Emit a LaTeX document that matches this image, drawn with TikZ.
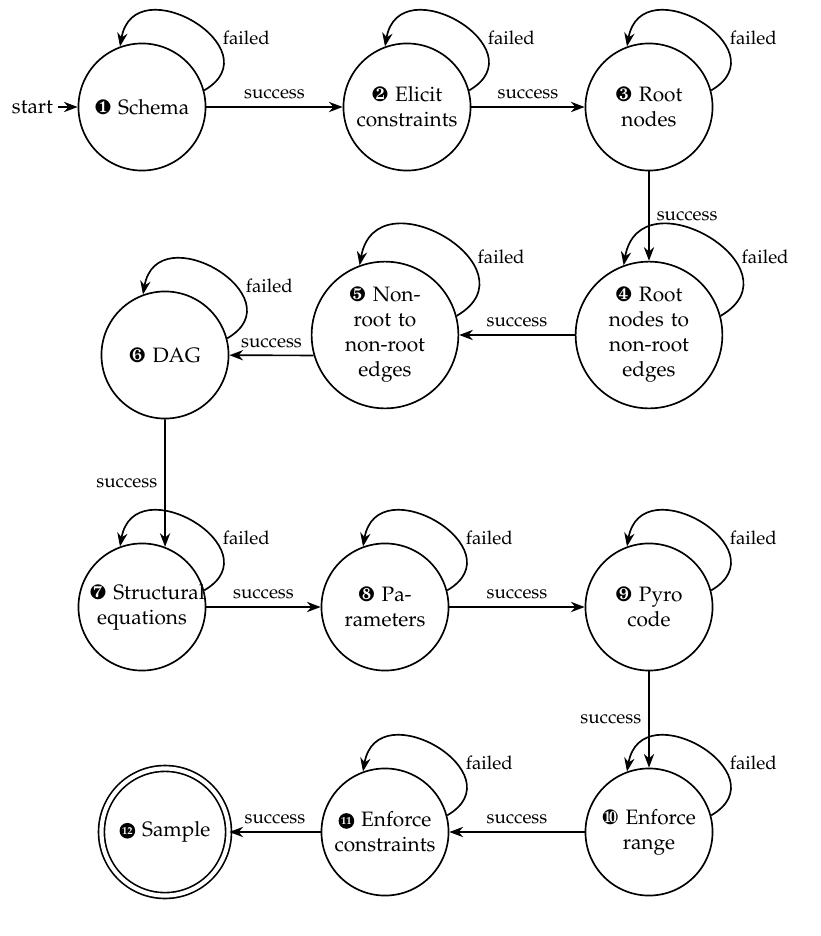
\documentclass[tikz,border=0pt]{standalone}
\usepackage[T1]{fontenc}
\usepackage{mathpazo}
\usepackage{pifont}
\usetikzlibrary{automata,arrows.meta,positioning}
\newcommand{\numdot}[1]{\tikz[baseline=-0.6ex]\node[circle, fill=black, text=white, inner sep=0.3pt, minimum size=7.5pt, font=\fontsize{5}{5}\selectfont\bfseries]{#1};}
\tikzset{
  state/.style={circle, draw, thick, minimum size=61pt, inner sep=1pt, align=center, text width=50pt},
  lbl/.style={font=\small},
  >=Stealth
}
\begin{document}
\begin{tikzpicture}[x=0.48pt, y=0.48pt, thick]
      \useasboundingbox (0,0) rectangle (820,-936);
      \node[state] (1) at (142,-107) {\ding{182} Schema};
      \node[state] (2) at (407,-107) {\ding{183} Elicit constraints};
      \node[state] (3) at (649,-107) {\ding{184} Root nodes};
      \node[state] (4) at (649,-335) {\ding{185} Root nodes to non-root edges};
      \node[state] (5) at (385,-335) {\ding{186} Non-root to non-root edges};
      \node[state] (6) at (165,-355) {\ding{187} DAG};
      \node[state] (7) at (142,-607) {\mbox{\ding{188} Structural} equations};
      \node[state] (8) at (385,-607) {\ding{189} Parameters};
      \node[state] (9) at (649,-607) {\ding{190} Pyro code};
      \node[state] (10) at (649,-832) {\ding{191} Enforce range};
      \node[state] (11) at (385,-832) {\numdot{11} Enforce constraints};
      \node[state, double, double distance=2pt] (12) at (165,-832) {\numdot{12} Sample};
      \coordinate (start) at (58,-107);
      \node[anchor=east, inner sep=2pt] at (start) {start};
      \draw[->] (start) -- (1);
      \foreach \source/\dest/\pos in {1/2/above, 2/3/above, 3/4/right, 4/5/above, 7/8/above, 8/9/above, 9/10/left, 10/11/above, 11/12/above}
        \path[->] (\source) edge node[lbl, \pos] {success} (\dest);
      \path[->] (5.196) edge node[lbl, above] {success} (6);
      \path[->] (6) edge node[lbl, left] {success} (7.69);
      \foreach \n in {1,...,11}
        \path[->] (\n.15) edge[out=30, in=80, looseness=2.2] node[lbl, pos=0.3, above right, inner sep=1pt] {failed} (\n.110);
    \end{tikzpicture}
\end{document}
